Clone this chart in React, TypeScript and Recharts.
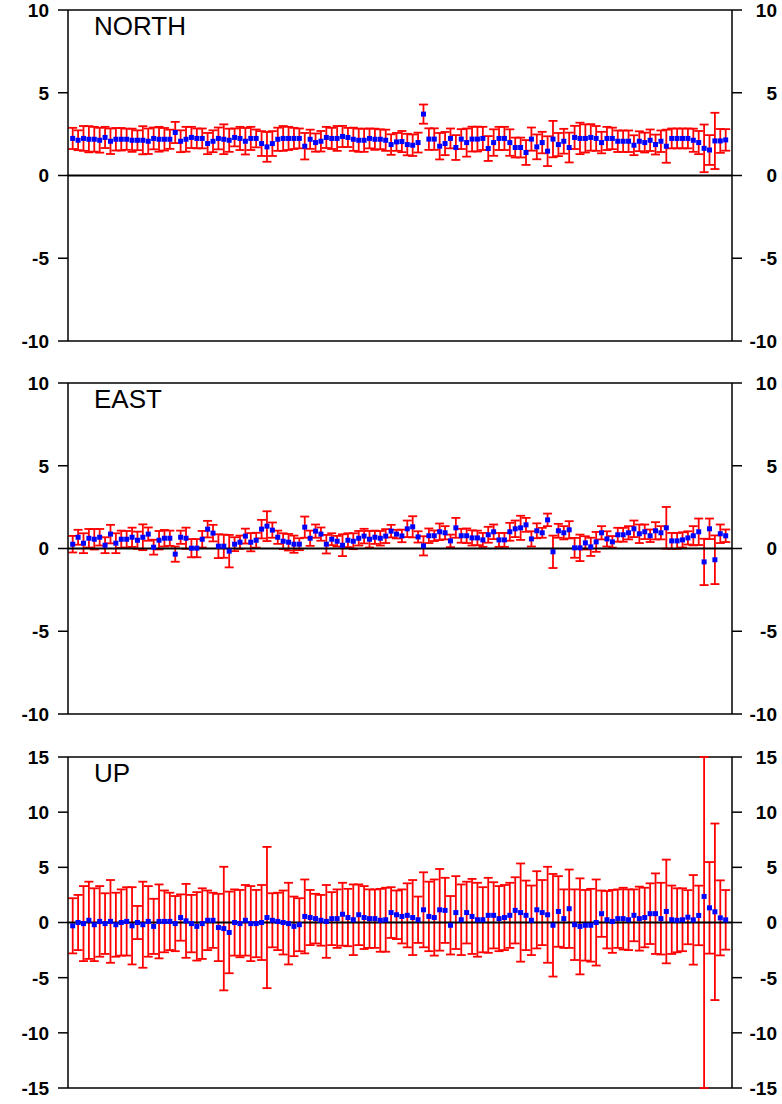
import React from 'react';
import {
  ScatterChart,
  Scatter,
  XAxis,
  YAxis,
  ErrorBar,
  ReferenceLine,
} from 'recharts';

// Daily residuals per component (mm) with 1-sigma uncertainties.
const DAYS = 122;

const NORTH = [
  2.24, 2.13, 2.24, 2.19, 2.19, 2.13, 2.3, 2.07, 2.19, 2.19, 2.19, 2.13, 2.13, 2.13, 2.07, 2.24,
  2.19, 2.19, 2.19, 2.6, 2.07, 2.19, 2.3, 2.24, 2.24, 1.93, 2.07, 2.24, 2.19, 2.13, 2.3, 2.24,
  2.07, 2.24, 2.24, 1.93, 1.73, 1.93, 2.19, 2.24, 2.24, 2.24, 2.24, 1.77, 2.19, 1.99, 2.07, 2.3,
  2.24, 2.24, 2.36, 2.3, 2.19, 2.13, 2.13, 2.24, 2.19, 2.19, 2.13, 1.87, 2.03, 2.05,
  1.87, 1.83, 1.99, 3.71, 2.2, 2.2, 1.77, 1.93, 2.24, 1.69, 2.2, 1.99, 2.2, 2.2, 2.24, 1.63,
  1.99, 2.24, 2.24, 1.99, 1.69, 1.69, 1.39, 2.2, 1.73, 1.99, 1.47, 2.2, 1.87, 2.07, 1.69, 2.3,
  2.24, 2.24, 2.3, 2.24, 1.99, 2.24, 2.24, 2.07, 2.07, 2.07, 1.83, 2.07, 1.99, 2.13, 1.87, 2.07,
  1.77, 2.24, 2.24, 2.24, 2.24, 2.13, 1.99, 1.64, 1.54, 2.09, 2.09, 2.15,
];
const NORTH_ERR = [
  0.64, 0.6, 0.75, 0.79, 0.75, 0.75, 0.64, 0.77, 0.68, 0.68, 0.64, 0.7, 0.6, 0.85, 0.77, 0.66,
  0.75, 0.68, 0.58, 0.64, 0.66, 0.75, 0.64, 0.6, 0.6, 0.64, 0.66, 0.66, 0.9, 0.7, 0.54, 0.7,
  0.8, 0.7, 0.54, 0.75, 0.9, 0.75, 0.7, 0.75, 0.7, 0.64, 0.6, 0.8, 0.58, 0.55, 0.62, 0.64,
  0.64, 0.75, 0.64, 0.58, 0.7, 0.7, 0.7, 0.6, 0.64, 0.6, 0.64, 0.62, 0.54, 0.64,
  0.65, 0.65, 0.6, 0.58, 0.65, 0.65, 0.8, 0.7, 0.6, 0.75, 0.6, 0.85, 0.75, 0.75, 0.7, 0.75,
  0.8, 0.7, 0.7, 0.8, 0.6, 0.6, 0.75, 0.7, 0.75, 0.65, 0.9, 1.1, 0.7, 0.75, 0.9, 0.7,
  0.95, 0.85, 0.8, 0.75, 0.65, 0.7, 0.65, 0.65, 0.65, 0.65, 0.6, 0.6, 0.6, 0.65, 0.6, 0.65,
  1.0, 0.6, 0.6, 0.6, 0.6, 0.7, 0.7, 1.44, 0.9, 1.7, 0.72, 0.65,
];

const EAST = [
  0.26, 0.68, 0.32, 0.62, 0.56, 0.68, 0.2, 0.87, 0.32, 0.56, 0.56, 0.68, 0.5, 0.68, 0.87, 0.08,
  0.5, 0.62, 0.62, -0.34, 0.68, 0.62, 0.02, 0.02, 0.56, 1.17, 0.93, 0.14, 0.14, -0.16, 0.26, 0.38,
  0.75, 0.38, 0.5, 1.17, 1.35, 1.11, 0.68, 0.44, 0.38, 0.26, 0.26, 1.29, 0.62, 1.05, 0.87, 0.26,
  0.56, 0.44, 0.2, 0.5, 0.44, 0.62, 0.75, 0.56, 0.68, 0.62, 0.75, 1.05, 0.87, 0.76,
  1.19, 1.31, 0.7, 0.16, 0.77, 0.77, 1.01, 0.95, 0.46, 1.25, 0.77, 0.77, 0.64, 0.64, 0.52, 0.83,
  1.01, 0.52, 0.52, 1.01, 1.19, 1.25, 1.43, 0.58, 1.07, 0.95, 1.73, -0.2, 1.07, 0.95, 1.13, 0.04,
  0.04, 0.34, 0.1, 0.4, 0.95, 0.58, 0.4, 0.83, 0.83, 0.95, 1.19, 0.89, 1.01, 0.77, 1.07, 0.95,
  1.25, 0.46, 0.46, 0.52, 0.64, 0.77, 1.01, -0.81, 1.19, -0.68, 0.89, 0.77,
];
const EAST_ERR = [
  0.5, 0.45, 0.6, 0.56, 0.62, 0.5, 0.48, 0.56, 0.6, 0.52, 0.5, 0.58, 0.52, 0.78, 0.4, 0.45,
  0.56, 0.5, 0.46, 0.46, 0.4, 0.64, 0.55, 0.55, 0.5, 0.5, 0.5, 0.72, 0.7, 0.98, 0.42, 0.4,
  0.45, 0.55, 0.45, 0.56, 0.9, 0.46, 0.4, 0.48, 0.5, 0.52, 0.36, 0.64, 0.46, 0.4, 0.4, 0.56,
  0.36, 0.32, 0.66, 0.42, 0.48, 0.44, 0.44, 0.5, 0.4, 0.44, 0.42, 0.38, 0.26, 0.38,
  0.5, 0.64, 0.34, 0.58, 0.44, 0.32, 0.5, 0.4, 0.38, 0.6, 0.42, 0.44, 0.46, 0.44, 0.42, 0.48,
  0.44, 0.42, 0.42, 0.54, 0.5, 0.73, 0.42, 0.46, 0.45, 0.3, 0.38, 0.98, 0.42, 0.4, 0.52, 0.6,
  0.8, 0.4, 0.55, 0.6, 0.4, 0.46, 0.35, 0.42, 0.42, 0.4, 0.5, 0.56, 0.44, 0.38, 0.52, 0.4,
  1.26, 0.48, 0.48, 0.46, 0.4, 0.58, 0.8, 1.4, 0.62, 1.47, 0.56, 0.38,
];

const UP = [
  -0.3, 0, -0.1, 0.2, -0.2, 0.1, -0.1, 0.1, -0.2, 0, 0.1, -0.3, 0, -0.2, 0.1, -0.35,
  0.1, 0.1, 0.1, -0.1, 0.45, 0.15, -0.1, -0.35, -0.1, 0.2, 0.2, -0.45, -0.55, -0.9, 0, -0.1,
  0.2, -0.1, -0.1, 0, 0.45, 0.2, 0.1, 0, -0.1, -0.35, -0.2, 0.55, 0.45, 0.35, 0.2, 0.1,
  0.35, 0.35, 0.75, 0.45, 0.25, 0.7, 0.45, 0.35, 0.35, 0.2, 0.25, 0.9, 0.7, 0.55,
  0.65, 0.45, 0.25, 1.15, 0.55, 0.45, 1.15, 1.1, -0.25, 0.9, 0.25, 0.9, 0.55, 0.25, 0.25, 0.65,
  0.65, 0.35, 0.45, 0.65, 1.1, 0.9, 0.65, 0.2, 1.15, 0.9, 0.7, -0.25, 1.0, 0.35, 1.25, -0.2,
  -0.35, -0.25, -0.25, 0, 0.8, 0.25, 0.1, 0.35, 0.35, 0.25, 0.65, 0.35, 0.45, 0.8, 0.8, 0.35,
  1.0, 0.25, 0.2, 0.25, 0.48, 0.24, 0.64, 2.36, 1.33, 0.97, 0.42, 0.24,
];
// [below, above] where the bar runs past the axis range
const UP_ERR: (number | [number, number])[] = [
  2.5, 2.5, 3.4, 3.5, 3.3, 3.2, 2.75, 3.75, 2.9, 3.0, 3.1, 3.5, 1.5, 3.9, 3.2, 2.5,
  3.35, 2.8, 2.6, 2.5, 2.1, 3.35, 2.6, 3.1, 3.2, 2.7, 2.5, 3.05, 5.6, 3.7, 3.0, 3.05,
  3.2, 3.4, 3.05, 3.4, 6.4, 2.45, 2.6, 2.9, 3.7, 2.7, 2.4, 3.35, 2.5, 2.25, 2.3, 3.3,
  2.4, 2.65, 2.85, 2.6, 3.2, 2.75, 2.85, 2.65, 2.65, 2.85, 2.9, 2.3, 2.2, 2.45,
  2.9, 3.4, 2.1, 3.4, 3.15, 3.45, 3.7, 2.95, 2.65, 3.3, 3.2, 2.8, 3.4, 3.35, 2.95, 3.4,
  3.0, 2.95, 2.95, 2.95, 3.0, 4.45, 3.15, 3.15, 3.5, 2.95, 4.35, 4.65, 3.2, 2.65, 3.55, 3.2,
  4.35, 3.2, 3.3, 3.9, 2.1, 2.6, 2.85, 2.65, 2.8, 2.75, 2.35, 2.9, 2.7, 2.75, 3.65, 3.25,
  4.7, 3.1, 2.9, 2.85, 2.45, 4.06, 2.7, [17.36, 12.64], 4.15, 8.0, 3.4, 2.7,
];

const TICKS_10 = [-10, -5, 0, 5, 10];
const TICKS_15 = [-15, -10, -5, 0, 5, 10, 15];

const WIDTH = 782;
const FONT = '"Liberation Sans", Arial, Helvetica, sans-serif';

type Row = { x: number; y: number; err: number | [number, number] };

const rows = (vals: number[], errs: (number | [number, number])[]): Row[] =>
  vals.slice(0, DAYS).map((y, i) => ({ x: i, y, err: errs[i] }));

const Square = (props: any) => {
  const { cx, cy } = props;
  if (cx == null || cy == null) return null;
  return <rect x={cx - 2.5} y={cy - 2.5} width={5} height={5} fill="#0000ff" />;
};

const Nothing = () => null;

const LeftTick = (props: any) => {
  const { x, y, payload } = props;
  return (
    <text x={x} y={y} dy="0.36em" textAnchor="end" fontSize={19} fontWeight="bold" fill="#000" fontFamily={FONT}>
      {payload.value}
    </text>
  );
};

const RightTick = (props: any) => {
  const { x, y, payload } = props;
  return (
    <text x={x + 35} y={y} dy="0.36em" textAnchor="end" fontSize={19} fontWeight="bold" fill="#000" fontFamily={FONT}>
      {payload.value}
    </text>
  );
};

interface PanelProps {
  title: string;
  data: Row[];
  limit: number;
  ticks: number[];
  height: number;
}

const Panel: React.FC<PanelProps> = ({ title, data, limit, ticks, height }) => {
  const axisStroke = { stroke: '#000', strokeWidth: 1.5 };
  return (
    <div style={{ position: 'relative', width: WIDTH, height }}>
      <ScatterChart
        width={WIDTH}
        height={height}
        margin={{ top: 10, right: 0, bottom: height - 341, left: 0 }}
      >
        <XAxis type="number" dataKey="x" domain={[-0.87, 122.17]} hide />
        <YAxis
          yAxisId="l"
          type="number"
          dataKey="y"
          domain={[-limit, limit]}
          allowDataOverflow
          ticks={ticks}
          interval={0}
          width={68}
          tickSize={10}
          tickMargin={9}
          axisLine={axisStroke}
          tickLine={axisStroke}
          tick={<LeftTick />}
        />
        <YAxis
          yAxisId="r"
          orientation="right"
          type="number"
          dataKey="y"
          domain={[-limit, limit]}
          allowDataOverflow
          ticks={ticks}
          interval={0}
          width={50}
          tickSize={10}
          tickMargin={0}
          axisLine={axisStroke}
          tickLine={axisStroke}
          tick={<RightTick />}
        />
        <ReferenceLine yAxisId="l" y={limit} stroke="#000" strokeWidth={1.5} />
        <ReferenceLine yAxisId="l" y={-limit} stroke="#000" strokeWidth={1.5} />
        {/* carries the right-hand axis; draws nothing itself */}
        <Scatter yAxisId="r" data={data} dataKey="y" shape={<Nothing />} isAnimationActive={false} />
        <Scatter yAxisId="l" data={data} dataKey="y" shape={<Square />} isAnimationActive={false}>
          <ErrorBar
            dataKey="err"
            direction="y"
            width={4.5}
            stroke="#ff0000"
            strokeWidth={1.8}
            isAnimationActive={false}
          />
        </Scatter>
        <ReferenceLine yAxisId="l" y={0} stroke="#000" strokeWidth={2} />
      </ScatterChart>
      <div
        style={{
          position: 'absolute',
          left: 94,
          top: 13,
          fontSize: 26,
          lineHeight: 1,
          fontFamily: FONT,
          color: '#000',
        }}
      >
        {title}
      </div>
    </div>
  );
};

const App: React.FC = () => {
  return (
    <div style={{ position: 'absolute', left: 0, top: 0, width: WIDTH, fontFamily: FONT, background: '#fff' }}>
      <Panel title="NORTH" data={rows(NORTH, NORTH_ERR)} limit={10} ticks={TICKS_10} height={373} />
      <Panel title="EAST" data={rows(EAST, EAST_ERR)} limit={10} ticks={TICKS_10} height={374} />
      <Panel title="UP" data={rows(UP, UP_ERR)} limit={15} ticks={TICKS_15} height={357} />
    </div>
  );
};

export default App;
